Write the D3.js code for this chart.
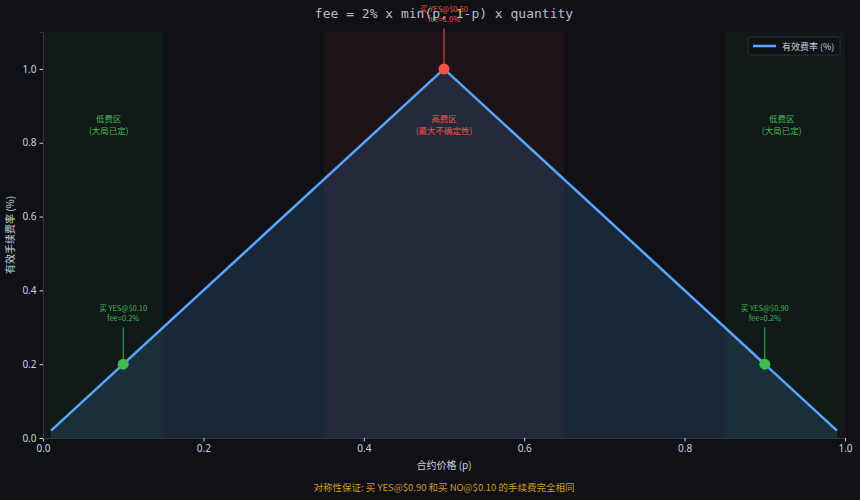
<!DOCTYPE html>
<html>
<head>
<meta charset="utf-8">
<script src="https://cdn.jsdelivr.net/npm/d3@7"></script>
<style>
  body { margin: 0; background: #0f1117; }
  text { font-family: "Noto Sans CJK SC", "Noto Sans", sans-serif; }
</style>
</head>
<body>
<div id="chart"></div>
<script>
var svgWidth = 860;
var svgHeight = 500;

var margin = { top: 32, right: 15, bottom: 62, left: 43 };
var width = svgWidth - margin.left - margin.right;
var height = svgHeight - margin.top - margin.bottom;

// curve vertices: price p vs effective fee rate (%)
var prices = [0.01, 0.5, 0.99];
var feeRates = [0.02, 1.0, 0.02];

// highlighted example points
var markPrices = [0.1, 0.5, 0.9];
var markFees = [0.2, 1.0, 0.2];
var markLabels = ["买 YES@$0.10", "买 YES@$0.50", "买 YES@$0.90"];
var markFeeText = ["fee=0.2%", "fee=1.0%", "fee=0.2%"];
var markTextY = [0.335, 1.145, 0.335];
var markColors = ["#3fb950", "#f85149", "#3fb950"];

// shaded zones
var zoneStarts = [0, 0.35, 0.85];
var zoneEnds = [0.15, 0.65, 1.0];
var zoneColors = ["#3fb950", "#f85149", "#3fb950"];
var zoneLabelX = [0.082, 0.5, 0.921];
var zoneTitles = ["低费区", "高费区", "低费区"];
var zoneSubs = ["(大局已定)", "(最大不确定性)", "(大局已定)"];

var xTicks = [0, 0.2, 0.4, 0.6, 0.8, 1.0];
var yTicks = [0, 0.2, 0.4, 0.6, 0.8, 1.0];

var svg = d3.select("#chart")
  .append("svg")
  .attr("width", svgWidth)
  .attr("height", svgHeight);

svg.append("rect")
  .attr("width", svgWidth)
  .attr("height", svgHeight)
  .attr("fill", "#0f1117");

var chartGroup = svg.append("g")
  .attr("transform", `translate(${margin.left}, ${margin.top})`);

var x = d3.scaleLinear().domain([0, 1]).range([0, width]);
var y = d3.scaleLinear().domain([0, 1.1]).range([height, 0]);

// zones
zoneStarts.forEach(function (s, i) {
  chartGroup.append("rect")
    .attr("x", x(s))
    .attr("y", 0)
    .attr("width", x(zoneEnds[i]) - x(s))
    .attr("height", height)
    .attr("fill", zoneColors[i])
    .attr("opacity", 0.055);
});

var pts = prices.map((p, i) => [p, feeRates[i]]);

// area under curve
chartGroup.append("path")
  .datum(pts)
  .attr("d", d3.area().x(d => x(d[0])).y0(y(0)).y1(d => y(d[1])))
  .attr("fill", "#58a6ff")
  .attr("opacity", 0.15);

// curve
chartGroup.append("path")
  .datum(pts)
  .attr("d", d3.line().x(d => x(d[0])).y(d => y(d[1])))
  .attr("fill", "none")
  .attr("stroke", "#58a6ff")
  .attr("stroke-width", 2.5);

// zone labels
zoneLabelX.forEach(function (zx, i) {
  var t = chartGroup.append("text")
    .attr("x", x(zx))
    .attr("y", y(0.85))
    .attr("text-anchor", "middle")
    .attr("font-size", 8.5)
    .attr("fill", zoneColors[i]);
  t.append("tspan").attr("x", x(zx)).attr("dy", "-0.25em").text(zoneTitles[i]);
  t.append("tspan").attr("x", x(zx)).attr("dy", "1.35em").text(zoneSubs[i]);
});

// axes
var xAxis = chartGroup.append("g")
  .attr("transform", `translate(0, ${height})`)
  .call(d3.axisBottom(x).tickValues(xTicks).tickFormat(d3.format(".1f")).tickSize(3.5));
var yAxis = chartGroup.append("g")
  .call(d3.axisLeft(y).tickValues(yTicks).tickFormat(d3.format(".1f")).tickSize(3.5));

[xAxis, yAxis].forEach(function (a) {
  a.select(".domain").attr("stroke", "#30363d");
  a.selectAll(".tick line").attr("stroke", "#c9d1d9");
  a.selectAll(".tick text")
    .attr("fill", "#c9d1d9")
    .attr("font-size", 10)
    .style("font-family", "'Noto Sans', sans-serif");
});

// markers + annotations
markPrices.forEach(function (p, i) {
  chartGroup.append("line")
    .attr("x1", x(p)).attr("x2", x(p))
    .attr("y1", y(markTextY[i]) + 13)
    .attr("y2", y(markFees[i]) - 4)
    .attr("stroke", markColors[i])
    .attr("stroke-width", 1);
  chartGroup.append("circle")
    .attr("cx", x(p))
    .attr("cy", y(markFees[i]))
    .attr("r", 5.5)
    .attr("fill", markColors[i]);
  var t = chartGroup.append("text")
    .attr("x", x(p))
    .attr("y", y(markTextY[i]))
    .attr("text-anchor", "middle")
    .attr("font-size", 7.5)
    .attr("fill", markColors[i]);
  t.append("tspan").attr("x", x(p)).attr("dy", "-0.45em").text(markLabels[i]);
  t.append("tspan").attr("x", x(p)).attr("dy", "1.35em").text(markFeeText[i]);
});

// legend
var legend = chartGroup.append("g")
  .attr("transform", `translate(${width - 97}, 5)`);
legend.append("rect")
  .attr("width", 92).attr("height", 18).attr("rx", 2)
  .attr("fill", "#0f1117").attr("opacity", 0.8)
  .attr("stroke", "#30363d");
legend.append("line")
  .attr("x1", 5).attr("x2", 28).attr("y1", 9).attr("y2", 9)
  .attr("stroke", "#58a6ff").attr("stroke-width", 2.5);
legend.append("text")
  .attr("x", 34).attr("y", 12.5)
  .attr("font-size", 9)
  .attr("fill", "#c9d1d9")
  .text("有效费率 (%)");

// title
svg.append("text")
  .attr("x", 444).attr("y", 18)
  .attr("text-anchor", "middle")
  .attr("font-size", 13)
  .style("font-family", "'DejaVu Sans Mono', monospace")
  .attr("fill", "#b8bec6")
  .text("fee = 2% x min(p, 1-p) x quantity");

// axis labels
svg.append("text")
  .attr("x", margin.left + width / 2).attr("y", 469)
  .attr("text-anchor", "middle")
  .attr("font-size", 10)
  .attr("fill", "#c9d1d9")
  .text("合约价格 (p)");

svg.append("text")
  .attr("transform", `translate(14, ${margin.top + height / 2}) rotate(-90)`)
  .attr("text-anchor", "middle")
  .attr("font-size", 10)
  .attr("fill", "#c9d1d9")
  .text("有效手续费率 (%)");

// footer
svg.append("text")
  .attr("x", 444).attr("y", 491)
  .attr("text-anchor", "middle")
  .attr("font-size", 9.5)
  .attr("fill", "#d29922")
  .text("对称性保证: 买 YES@$0.90 和买 NO@$0.10 的手续费完全相同");
</script>
</body>
</html>
